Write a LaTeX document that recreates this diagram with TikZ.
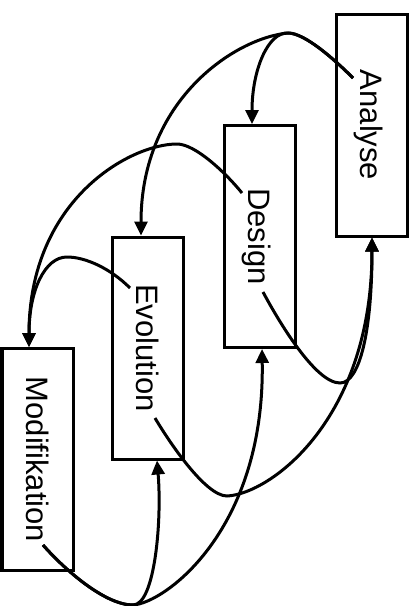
\documentclass[tikz,border=0pt]{standalone}
\usepackage{fontspec}
\setmainfont{Liberation Sans}
\usetikzlibrary{arrows.meta}
\begin{document}
\begin{tikzpicture}[x=1pt,y=-1pt,
  phase/.style={draw,line width=3pt,minimum width=71pt,minimum height=222pt,inner sep=0pt},
  lbl/.style={rotate=-90,inner sep=0pt,text height=22pt,text depth=0pt,font=\fontsize{31}{31}\selectfont},
  flow/.style={line width=3pt,-{Triangle[length=14pt,width=13pt]}}]
\useasboundingbox (0,0) rectangle (415,606);

% phase boxes
\node[phase] (A) at (371.5,125) {};
\node[phase] (D) at (259.5,236.5) {};
\node[phase] (E) at (147.5,348) {};
\node[phase] (M) at (37.5,459.5) {};

% rotated labels
\node[lbl] (At) at (A.center) {Analyse};
\node[lbl] (Dt) at (D.center) {Design};
\node[lbl] (Et) at (E.center) {Evolution};
\node[lbl] (Mt) at (M.center) {Modifikation};

% where the loops leave the labels, and their turning points
\coordinate (a0) at (353,78);
\coordinate (d0) at (242,193);
\coordinate (e0) at (130,288);
\coordinate (m1) at (43,545);
\coordinate (e1) at (155,418);
\coordinate (d1) at (263,292);
\coordinate (ap) at (288,33);
\coordinate (dp) at (177,144);
\coordinate (ep) at (67,257);
\coordinate (mb) at (133,605);
\coordinate (eb) at (227,496);
\coordinate (db) at (340,383);

% forward loops over the top
\draw[flow] (a0) .. controls (335,60) and (305,33) .. (ap)
  .. controls (268,32) and (252,70) .. ([xshift=-7.5pt]D.north);
\draw[flow] (a0) .. controls (335,60) and (305,33) .. (ap)
  .. controls (235,38) and (141,100) .. ([xshift=-6.5pt]E.north);
\draw[flow] (d0) .. controls (225,172) and (195,144) .. (dp)
  .. controls (130,144) and (29,200) .. ([xshift=-8.5pt]M.north);
\draw[flow] (e0) .. controls (110,268) and (85,257) .. (ep)
  .. controls (45,257) and (29,290) .. ([xshift=-8.5pt]M.north);

% feedback loops underneath
\draw[flow] (m1) .. controls (65,570) and (105,605) .. (mb)
  .. controls (155,605) and (162,520) .. ([xshift=9.5pt]E.south);
\draw[flow] (m1) .. controls (65,570) and (105,605) .. (mb)
  .. controls (165,603) and (265,530) .. ([xshift=2.5pt]D.south);
\draw[flow] (e1) .. controls (168,440) and (205,496) .. (eb)
  .. controls (270,494) and (372,420) .. ([xshift=0.5pt]A.south);
\draw[flow] (d1) .. controls (278,320) and (315,383) .. (db)
  .. controls (360,383) and (372,330) .. ([xshift=0.5pt]A.south);
\end{tikzpicture}
\end{document}
